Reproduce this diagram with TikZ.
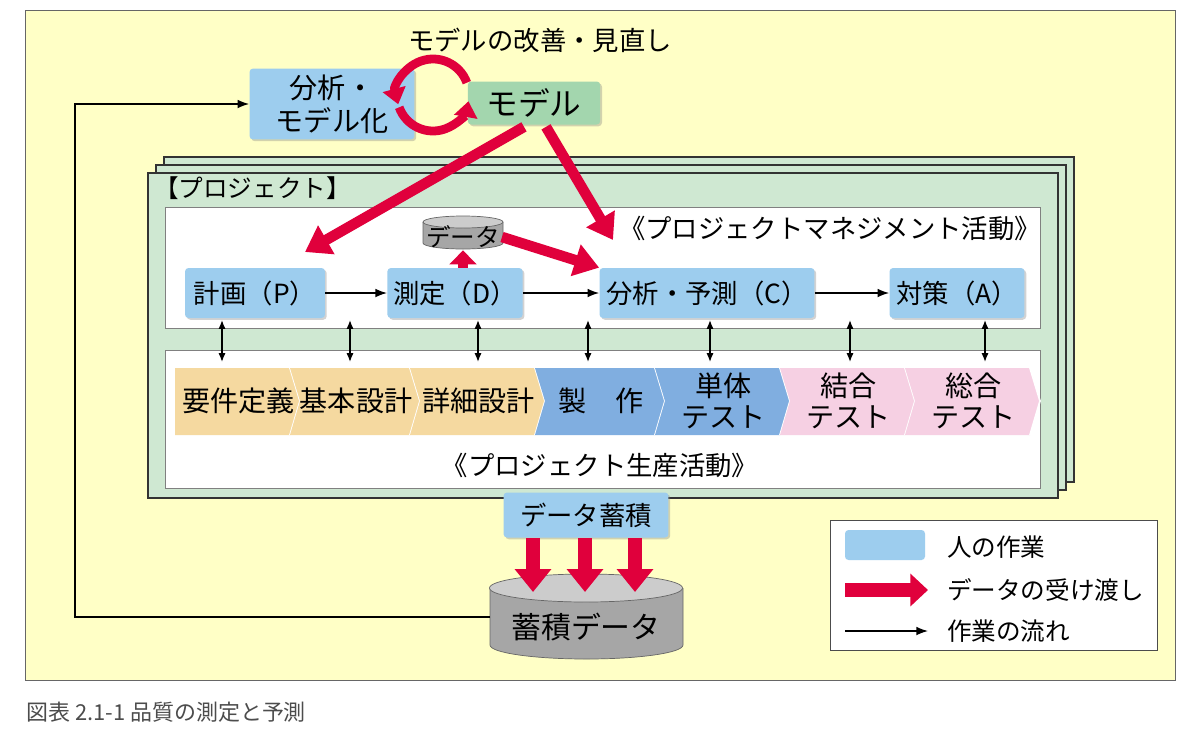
\documentclass[tikz,border=0pt]{standalone}
\usepackage{fontspec}
\setmainfont{Noto Sans CJK JP}[BoldFont={Noto Sans CJK JP Medium}]
\usetikzlibrary{arrows.meta,positioning,calc,shadows}
\definecolor{bgyel}{HTML}{FFFFC6}
\definecolor{prjgrn}{HTML}{CFE8D2}
\definecolor{hblue}{HTML}{9DCDEE}
\definecolor{mgrn}{HTML}{A3D6AE}
\definecolor{dred}{HTML}{E0003C}
\definecolor{corg}{HTML}{F5D9A0}
\definecolor{cblu}{HTML}{80AEE0}
\definecolor{cpnk}{HTML}{F6D0E3}
\tikzset{
  >=Latex,
  % 人の作業
  work/.style={fill=hblue,rounded corners=2pt,font=\fontsize{15pt}{17pt}\selectfont,align=center,
    drop shadow={opacity=.35,shadow xshift=1pt,shadow yshift=-1pt}},
  flow/.style={->,line width=.8pt},
  both/.style={<->,line width=.8pt,>={Latex[length=5pt,width=4pt]}},
  % データの受け渡し
  data/.style={dred,line width=6pt,-{Triangle[length=14pt,width=18pt]}},
  panel/.style={draw=black!80,line width=.8pt,fill=prjgrn},
  lbl/.style={font=\fontsize{14pt}{16pt}\selectfont,inner sep=1pt}
}
\begin{document}
\begin{tikzpicture}[x=0.02cm,y=-0.02cm]
  \useasboundingbox (0,0) rectangle (1200,741);
  %--- 背景
  \draw[fill=bgyel,draw=black!60] (25,10) rectangle (1175,680);
  \node[anchor=west,text=black!70,font=\fontsize{12.5pt}{14pt}\selectfont] (cap) at (20,712) {図表 2.1-1 品質の測定と予測};

  %--- プロジェクト枠
  \foreach \d in {16,8,0}
    \draw[panel] (148+\d,173-\d) rectangle (1058+\d,498-\d);
  \node[lbl,anchor=west] (prj) at (152,188) {【プロジェクト】};
  \draw[fill=white,draw=black!50] (165,207) rectangle (1040,328);
  \draw[fill=white,draw=black!50] (165,350) rectangle (1040,488);
  \node[lbl,font=\fontsize{15pt}{17pt}\selectfont] (mgmt) at (830,228) {《プロジェクトマネジメント活動》};
  \node[lbl,font=\fontsize{15pt}{17pt}\selectfont] (prod) at (600,465) {《プロジェクト生産活動》};

  %--- PDCA
  \node[work,minimum width=2.8cm,minimum height=1cm] (P) at (255,293) {計画（P）};
  \node[work,minimum width=2.6cm,minimum height=1cm] (D) at (455,293) {測定（D）};
  \node[work,minimum width=4.3cm,minimum height=1cm] (C) at (707,293) {分析・予測（C）};
  \node[work,minimum width=2.7cm,minimum height=1cm] (A) at (957,293) {対策（A）};
  \draw[flow] (P) -- (D);
  \draw[flow] (D) -- (C);
  \draw[flow] (C) -- (A);

  %--- 工程
  \foreach \i/\a/\b/\c/\t in {1/175/290/corg/要件定義,2/290/410/corg/基本設計,3/410/535/corg/詳細設計,
      4/535/655/cblu/製\quad 作,5/655/780/cblu/単体\\テスト,6/780/905/cpnk/結合\\テスト,7/905/1030/cpnk/総合\\テスト}{
    \ifnum\i=1
      \fill[\c] (\a,368) -- (\b,368) -- (\b+10,401) -- (\b,435) -- (\a,435) -- cycle;
    \else
      \fill[\c] (\a,368) -- (\b,368) -- (\b+10,401) -- (\b,435) -- (\a,435) -- (\a+10,401) -- cycle;
    \fi
    \draw[white,line width=1pt] (\b,368) -- (\b+10,401) -- (\b,435);
    \node[lbl,align=center,font=\fontsize{16pt}{18pt}\selectfont] (s\i) at ({(\a+\b)/2+6},401) {\t};
  }
  \foreach \x in {222,350,478,588,710,850,985}{
    \coordinate (u\x) at (\x,320);
    \coordinate (l\x) at (\x,362);
    \draw[both] (u\x) -- (l\x);
  }

  %--- データ(小)
  \draw[fill=black!35,draw=black!60] (423,222) -- (423,243) arc[start angle=180,end angle=0,x radius=40,y radius=6] -- (503,222);
  \draw[fill=black!20,draw=black!60] (463,222) ellipse[x radius=40,y radius=6];
  \node[lbl] (dat) at (463,237) {データ};

  %--- モデル
  \node[work,minimum width=3.3cm,minimum height=1.24cm,font=\fontsize{16pt}{19pt}\selectfont] (ana) at (332,104) {分析・\\モデル化};
  \node[work,fill=mgrn,minimum width=2.65cm,minimum height=0.86cm,font=\fontsize{18pt}{20pt}\selectfont] (mdl) at (534,103) {モデル};
  \node[lbl,font=\fontsize{15pt}{17pt}\selectfont] (kaizen) at (540,40) {モデルの改善・見直し};
  \draw[dred,line width=5pt,-{Triangle[length=9pt,width=13pt]}] (433,95) ++(-20:36) arc[start angle=-20,end angle=-195,radius=36];
  \draw[dred,line width=5pt,-{Triangle[length=9pt,width=13pt]}] (433,95) ++(-200:36) arc[start angle=-200,end angle=-350,radius=36];

  %--- データの流れ
  \draw[data] (mdl.south) ++(-10,2) coordinate (m1) -- (305,252) coordinate (pin);
  \draw[data] (mdl.south) ++(12,2) coordinate (m2) -- (613,240) coordinate (mgin);
  \draw[data] (dat.east) -- (C.north west);
  \draw[data,-{Triangle[length=8pt,width=15pt]}] (D.north -| dat) -- (dat.south);

  %--- 蓄積
  \node[work,minimum width=3.3cm,minimum height=0.9cm] (acc) at (586,515) {データ蓄積};
  \draw[black!60,fill=black!35] (490,588) -- (490,645) arc[start angle=180,end angle=0,x radius=96.5,y radius=14] -- (683,588);
  \draw[fill=black!20,draw=black!60] (586,588) ellipse[x radius=96.5,y radius=14];
  \node[lbl,font=\fontsize{17pt}{19pt}\selectfont] (db) at (586,627) {蓄積データ};
  \foreach \x in {533,585,635}
    \draw[data,line width=8pt,-{Triangle[length=13pt,width=20pt]}] (\x,538) -- (\x,592);
  \draw[flow] (490,617) -- (75,617) |- (ana.west);

  %--- 凡例
  \draw[fill=white,draw=black!70] (830,520) rectangle (1157,650);
  \node[fill=hblue,rounded corners=2pt,minimum width=1.6cm,minimum height=0.6cm] (lg1) at (885,545) {};
  \node[lbl,anchor=west] (lt1) at (945,547) {人の作業};
  \coordinate (lg2) at (845,590);
  \coordinate (lg2e) at (928,590);
  \node[lbl,anchor=west] (lt2) at (945,590) {データの受け渡し};
  \draw[data,line width=8pt,-{Triangle[length=10pt,width=18pt]}] (lg2) -- (lg2e);
  \coordinate (lg3) at (845,631);
  \coordinate (lg3e) at (928,631);
  \node[lbl,anchor=west] (lt3) at (945,631) {作業の流れ};
  \draw[flow] (lg3) -- (lg3e);
\end{tikzpicture}
\end{document}
